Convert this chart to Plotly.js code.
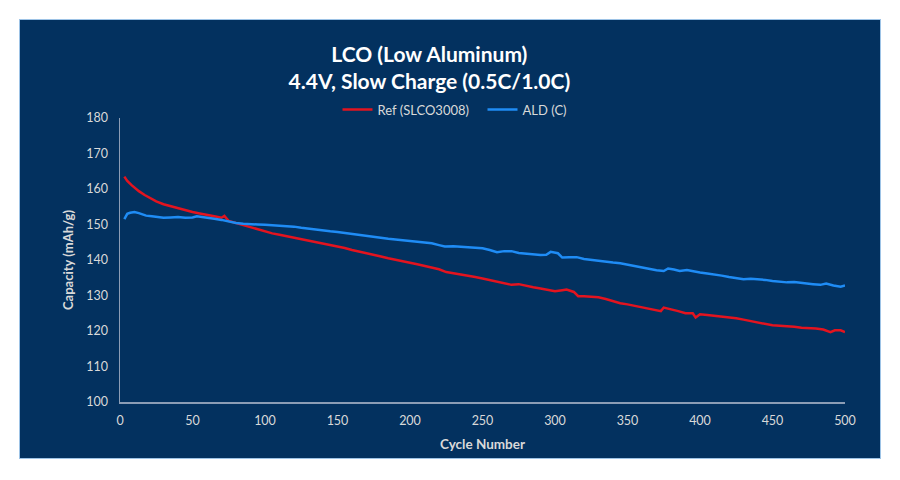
<!DOCTYPE html>
<html>
<head>
<meta charset="utf-8">
<script src="https://cdn.plot.ly/plotly-3.0.1.min.js"></script>
<style>
  html, body { margin: 0; padding: 0; background: #ffffff; width: 900px; height: 480px; overflow: hidden; }
  #chart { position: absolute; left: 19px; top: 19px; width: 862px; height: 440px; box-sizing: border-box; border: 1px solid #9dc3e6; }
</style>
</head>
<body>
<div id="chart"></div>
<script>
// Ref (SLCO3008)
const refCycles = [3,5,8,10,13,17,20,25,30,35,40,45,50,55,60,65,70,72,75,80,85,90,95,100,105,110,115,120,125,130,135,140,145,150,155,160,165,170,175,180,185,190,195,200,205,210,215,220,225,230,235,240,245,250,255,260,265,270,275,280,285,290,295,300,305,308,313,316,320,325,330,335,340,345,350,355,360,365,370,373,375,380,385,390,395,397,400,405,410,415,420,425,430,435,440,445,450,455,460,465,470,475,480,485,490,493,497,500];
const refCapacity = [163.5,162.3,161.1,160.4,159.4,158.3,157.6,156.5,155.7,155.1,154.5,154.0,153.5,153.1,152.6,152.3,151.9,152.4,151.0,150.4,149.8,149.1,148.6,148.1,147.5,147.1,146.7,146.3,145.9,145.5,145.0,144.6,144.2,143.8,143.4,142.8,142.4,141.9,141.5,141.0,140.5,140.0,139.6,139.2,138.8,138.4,137.9,137.4,136.6,136.3,136.0,135.6,135.2,134.8,134.4,134.0,133.4,133.0,133.2,132.7,132.3,132.0,131.6,131.2,131.5,131.7,131.0,129.8,129.8,129.6,129.5,129.0,128.3,127.8,127.5,127.1,126.7,126.3,125.8,125.6,126.6,126.2,125.6,125.0,125.0,123.8,124.7,124.5,124.3,124.1,123.8,123.6,123.2,122.8,122.3,121.9,121.6,121.5,121.4,121.2,120.9,120.9,120.7,120.4,119.7,120.2,120.2,119.7];

// ALD (C)
const aldCycles = [3,5,7,10,13,15,18,22,26,30,35,40,45,50,53,57,60,65,70,73,77,80,85,90,95,100,105,110,115,120,125,130,135,140,145,150,155,160,165,170,175,180,185,190,195,200,205,210,215,220,224,230,235,240,245,250,255,260,265,270,275,280,285,290,294,297,302,305,310,315,320,325,330,335,340,345,350,355,360,365,370,375,378,382,386,391,395,400,405,410,415,420,425,430,435,440,445,450,455,460,465,470,474,478,483,487,492,497,500];
const aldCapacity = [151.5,153.0,153.3,153.5,153.2,152.9,152.5,152.3,152.0,151.9,152.0,152.1,151.9,152.0,152.3,152.0,151.8,151.6,151.3,151.0,150.6,150.4,150.2,150.0,150.0,149.9,149.8,149.6,149.5,149.4,149.1,148.9,148.6,148.3,148.1,147.9,147.6,147.3,147.1,146.8,146.5,146.3,146.0,145.8,145.6,145.3,145.1,144.9,144.7,144.2,143.8,143.9,143.8,143.6,143.4,143.3,142.8,142.2,142.5,142.5,142.0,141.8,141.6,141.4,141.5,142.3,141.9,140.7,140.8,140.8,140.3,140.0,139.8,139.5,139.3,139.1,138.7,138.4,138.0,137.4,137.1,136.9,137.6,137.3,136.9,137.2,136.8,136.5,136.2,136.0,135.6,135.2,134.9,134.6,134.7,134.6,134.4,134.1,133.9,133.7,133.8,133.5,133.4,133.2,133.0,133.4,132.8,132.5,132.8];

const xTicks = [0,50,100,150,200,250,300,350,400,450,500];
const yTicks = [100,110,120,130,140,150,160,170,180];

const fontFam = 'Lato, "Open Sans", "DejaVu Sans", sans-serif';

const traces = [
  { x: refCycles, y: refCapacity, type: 'scatter', mode: 'lines', name: 'Ref (SLCO3008)',
    line: { color: '#e3141f', width: 2.5 } },
  { x: aldCycles, y: aldCapacity, type: 'scatter', mode: 'lines', name: 'ALD (C)',
    line: { color: '#1f8cf5', width: 2.5 } }
];

const layout = {
  width: 860, height: 438,
  paper_bgcolor: '#03315f', plot_bgcolor: '#03315f',
  margin: { l: 100, r: 35, t: 98, b: 56 },
  font: { family: fontFam, color: '#d9d9d9', size: 12 },
  title: {
    text: '<b>LCO (Low Aluminum)</b><br><b>4.4V, Slow Charge (0.5C/1.0C)</b>',
    font: { family: fontFam, size: 21, color: '#ffffff' },
    xref: 'container', x: 0.476, xanchor: 'center',
    yref: 'container', y: 0.905, yanchor: 'top'
  },
  showlegend: true,
  legend: {
    orientation: 'h', xref: 'paper', x: 0.3, xanchor: 'left',
    yref: 'paper', y: 1.03, yanchor: 'middle',
    font: { family: fontFam, size: 13, color: '#d9d9d9' },
    bgcolor: 'rgba(0,0,0,0)', itemwidth: 30, tracegroupgap: 0,
    entrywidth: 100, entrywidthmode: 'pixels'
  },
  xaxis: {
    range: [0, 500], tickvals: xTicks, ticktext: xTicks.map(String),
    showgrid: false, zeroline: false, showline: true, linecolor: '#8c9db5', linewidth: 1.5,
    ticks: '', ticklabelstandoff: 6,
    tickfont: { family: fontFam, size: 12.5, color: '#d9d9d9' },
    title: { text: '<b>Cycle Number</b>', font: { family: fontFam, size: 13.5, color: '#d9d9d9' }, standoff: 13 }
  },
  yaxis: {
    range: [100, 180], tickvals: yTicks, ticktext: yTicks.map(String),
    showgrid: false, zeroline: false, showline: true, linecolor: '#8c9db5', linewidth: 1.5,
    ticks: '', ticklabelstandoff: 8,
    tickfont: { family: fontFam, size: 12.5, color: '#d9d9d9' },
    title: { text: '<b>Capacity (mAh/g)</b>', font: { family: fontFam, size: 13, color: '#d9d9d9' }, standoff: 9 }
  }
};

Plotly.newPlot('chart', traces, layout, { displayModeBar: false, staticPlot: true });
</script>
</body>
</html>
